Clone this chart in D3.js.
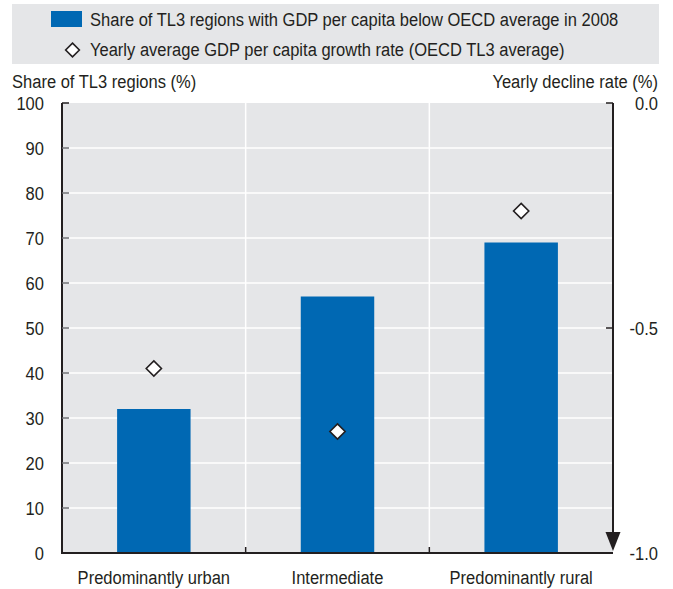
<!DOCTYPE html>
<html>
<head>
<meta charset="utf-8">
<script src="https://cdn.jsdelivr.net/npm/d3@7"></script>
<style>
  body { margin: 0; background: #fff; }
  svg { display: block; }
  text { font-family: "Liberation Sans", Arial, sans-serif; font-size: 19px; fill: #231f20; }
</style>
</head>
<body>
<svg id="chart" width="673" height="589"></svg>
<script>
// Region types and their values
const categories = ["Predominantly urban", "Intermediate", "Predominantly rural"];
const shareBelowAvg = [32, 57, 69];          // % of TL3 regions below OECD average GDP per capita, 2008
const growthRate = [-0.59, -0.73, -0.24];    // yearly average GDP per capita growth rate (%)
const leftTicks = [0, 10, 20, 30, 40, 50, 60, 70, 80, 90, 100];
const rightTicks = [0, -0.5, -1];
const legendLabels = [
  "Share of TL3 regions with GDP per capita below OECD average in 2008",
  "Yearly average GDP per capita growth rate (OECD TL3 average)"
];

const svg = d3.select("#chart");
const plot = { left: 62, right: 613, top: 103, bottom: 553 };
const BLUE = "#0068b3", PANEL = "#e5e6e8", INK = "#231f20";
const fmtRight = d => d3.format(".1f")(d).replace("\u2212", "-");

// Condensed lettering: squeeze text horizontally around its anchor point
const SQUEEZE = 0.87;
function label(parent, x, y, str, anchor) {
  return parent.append("text")
    .attr("x", x).attr("y", y)
    .attr("text-anchor", anchor || "start")
    .attr("transform", `translate(${x},0) scale(${SQUEEZE},1) translate(${-x},0)`)
    .text(str);
}

const x = d3.scaleBand().domain(categories).range([plot.left, plot.right]).paddingInner(0).paddingOuter(0);
const yL = d3.scaleLinear().domain([0, 100]).range([plot.bottom, plot.top]);
const yR = d3.scaleLinear().domain([-1, 0]).range([plot.bottom, plot.top]);

// Legend
const lg = svg.append("g");
lg.append("rect").attr("x", 12).attr("y", 4).attr("width", 647).attr("height", 60).attr("fill", PANEL);
lg.append("rect").attr("x", 51).attr("y", 11).attr("width", 31).attr("height", 16).attr("fill", BLUE);
label(lg, 90, 26, legendLabels[0]);
lg.append("path").attr("d", d3.symbol(d3.symbolDiamond2, 120)())
  .attr("transform", "translate(72.5,50)").attr("fill", "#fff").attr("stroke", INK).attr("stroke-width", 1.6);
label(lg, 90, 56, legendLabels[1]);

// Axis titles
label(svg, 12, 88, "Share of TL3 regions (%)");
label(svg, 658, 88, "Yearly decline rate (%)", "end");

// Panel background and gridlines
svg.append("rect").attr("x", plot.left).attr("y", plot.top)
  .attr("width", plot.right - plot.left).attr("height", plot.bottom - plot.top).attr("fill", PANEL);
svg.append("g").selectAll("line").data(leftTicks.filter(d => d > 0 && d < 100)).join("line")
  .attr("x1", plot.left).attr("x2", plot.right)
  .attr("y1", d => yL(d)).attr("y2", d => yL(d))
  .attr("stroke", "#fff").attr("stroke-width", 1.5);
const bounds = categories.slice(1).map(c => x(c));
svg.append("g").selectAll("line").data(bounds).join("line")
  .attr("x1", d => d).attr("x2", d => d)
  .attr("y1", plot.top).attr("y2", plot.bottom)
  .attr("stroke", "#fff").attr("stroke-width", 1.5);

// Bars
const barW = x.bandwidth() * 0.4;
svg.append("g").selectAll("rect").data(categories).join("rect")
  .attr("x", d => x(d) + (x.bandwidth() - barW) / 2)
  .attr("width", barW)
  .attr("y", (d, i) => yL(shareBelowAvg[i]))
  .attr("height", (d, i) => yL(0) - yL(shareBelowAvg[i]))
  .attr("fill", BLUE);

// Left axis
const la = svg.append("g");
la.append("line").attr("x1", plot.left).attr("x2", plot.left).attr("y1", plot.top).attr("y2", plot.bottom)
  .attr("stroke", INK).attr("stroke-width", 2);
la.selectAll("line.t").data(leftTicks.filter(d => d > 0)).join("line").attr("class", "t")
  .attr("x1", plot.left).attr("x2", plot.left + 7)
  .attr("y1", d => yL(d)).attr("y2", d => yL(d))
  .attr("stroke", d => d === 100 ? INK : "#6d6e70").attr("stroke-width", 1.5);
leftTicks.forEach(d => label(la, 44, yL(d) + 7, String(d), "end"));

// Right axis (decline direction shown by arrow)
const ra = svg.append("g");
ra.append("line").attr("x1", plot.right).attr("x2", plot.right).attr("y1", plot.top).attr("y2", plot.bottom - 18)
  .attr("stroke", INK).attr("stroke-width", 2);
ra.append("path")
  .attr("d", `M${plot.right - 7.5},${plot.bottom - 21} L${plot.right + 7.5},${plot.bottom - 21} L${plot.right},${plot.bottom - 2} Z`)
  .attr("fill", INK);
ra.selectAll("line.t").data(rightTicks.filter(d => d > -1)).join("line").attr("class", "t")
  .attr("x1", plot.right - 7).attr("x2", plot.right)
  .attr("y1", d => yR(d)).attr("y2", d => yR(d))
  .attr("stroke", INK).attr("stroke-width", 1.5);
rightTicks.forEach(d => label(ra, 658, yR(d) + 7, fmtRight(d), "end"));

// Bottom axis
const ba = svg.append("g");
ba.append("line").attr("x1", plot.left - 1).attr("x2", plot.right).attr("y1", plot.bottom).attr("y2", plot.bottom)
  .attr("stroke", INK).attr("stroke-width", 2);
ba.selectAll("line.t").data(bounds).join("line").attr("class", "t")
  .attr("x1", d => d).attr("x2", d => d).attr("y1", plot.bottom).attr("y2", plot.bottom - 6)
  .attr("stroke", INK).attr("stroke-width", 1.5);
categories.forEach(c => label(ba, x(c) + x.bandwidth() / 2, plot.bottom + 31, c, "middle"));

// Growth-rate markers
svg.append("g").selectAll("path").data(categories).join("path")
  .attr("d", d3.symbol(d3.symbolDiamond2, 148)())
  .attr("transform", (d, i) => `translate(${x(d) + x.bandwidth() / 2},${yR(growthRate[i])})`)
  .attr("fill", "#fff").attr("stroke", INK).attr("stroke-width", 1.6);
</script>
</body>
</html>
